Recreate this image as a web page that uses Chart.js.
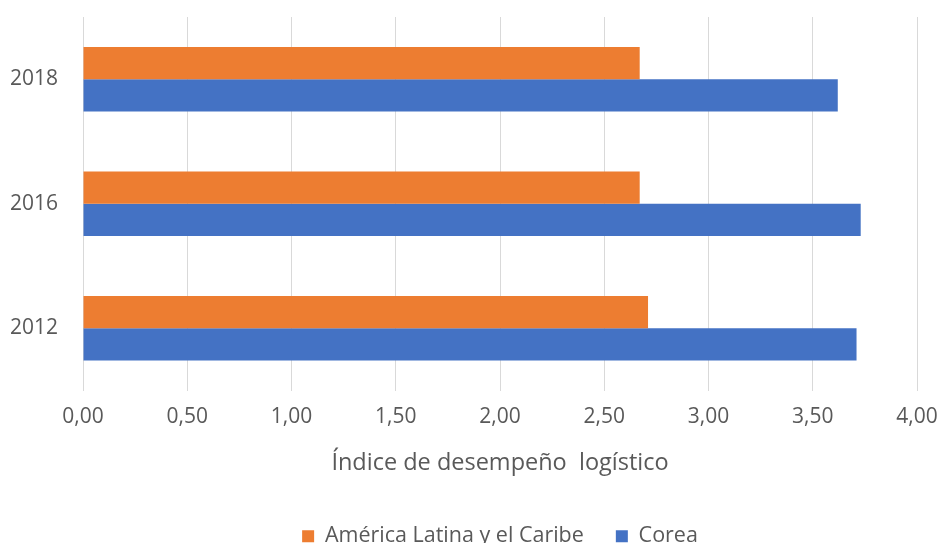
<!DOCTYPE html>
<html>
<head>
<meta charset="utf-8">
<script src="https://cdn.jsdelivr.net/npm/chart.js@4"></script>
<style>
  html, body { margin: 0; padding: 0; background: #fff; }
  #wrap { width: 942px; height: 543px; }
</style>
</head>
<body>
<div id="wrap"><canvas id="myChart" width="942" height="543"></canvas></div>
<script>
const years = ['2018', '2016', '2012']
const latam = [2.67, 2.67, 2.71]
const corea = [3.62, 3.73, 3.71]
const xTicks = [0, 0.5, 1, 1.5, 2, 2.5, 3, 3.5, 4]

const fontName = "'Open Sans', 'Noto Sans', sans-serif"
Chart.defaults.font.family = fontName
Chart.defaults.color = '#595959'

const ctx = document.getElementById('myChart').getContext('2d')

const myChart = new Chart(ctx, {
    type: 'bar',
    data: {
        labels: years,
        datasets: [{
            label: 'América Latina y el Caribe',
            data: latam,
            backgroundColor: '#ED7D31',
            borderWidth: 0,
            barPercentage: 1,
            categoryPercentage: 0.52
        }, {
            label: 'Corea',
            data: corea,
            backgroundColor: '#4472C4',
            borderWidth: 0,
            barPercentage: 1,
            categoryPercentage: 0.52
        }]
    },
    options: {
        indexAxis: 'y',
        responsive: false,
        animation: false,
        layout: { padding: { left: 0, right: 25, top: 17, bottom: -14 } },
        plugins: {
            legend: {
                position: 'bottom',
                fullSize: false, // centre it under the plot, not the canvas
                labels: {
                    boxWidth: 12,
                    boxHeight: 12,
                    padding: 32,
                    font: { size: 21.5 },
                    color: '#595959'
                }
            },
            tooltip: { enabled: false }
        },
        scales: {
            x: {
                min: 0,
                max: 4,
                afterBuildTicks: (scale) => {
                    scale.ticks = xTicks.map(v => ({ value: v }))
                },
                afterFit: (scale) => {
                    scale.height = 103
                    scale.paddingLeft = 0
                    scale.paddingRight = 0
                },
                grid: { color: '#d9d9d9', lineWidth: 1, drawTicks: false },
                border: { display: false },
                ticks: {
                    padding: 14,
                    font: { size: 21 },
                    callback: (v) => Number(v).toFixed(2).replace('.', ',')
                },
                title: {
                    display: true,
                    text: 'Índice de desempeño  logístico',
                    font: { size: 23.5 },
                    padding: { top: 10, bottom: 16 }
                }
            },
            y: {
                afterFit: (scale) => {
                    scale.width = 83
                    scale.paddingTop = 0
                    scale.paddingBottom = 0
                },
                grid: { display: false, drawTicks: false },
                border: { display: false },
                ticks: {
                    padding: 25,
                    font: { size: 21 }
                }
            }
        }
    }
})
</script>
</body>
</html>
